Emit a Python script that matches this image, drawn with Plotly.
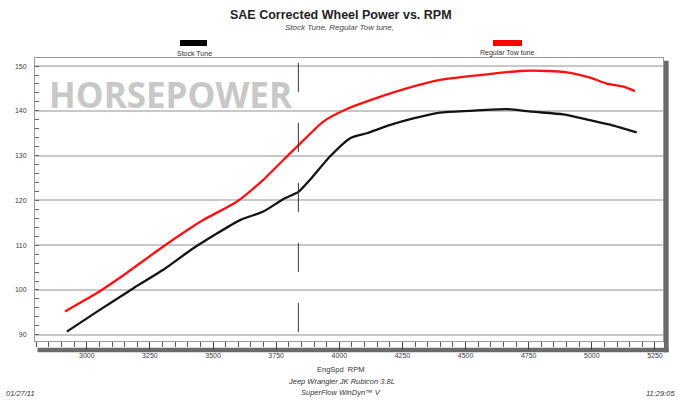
import plotly.graph_objects as go

# ---- data ----
stock_rpm = [2921, 3053, 3185, 3303, 3422, 3607, 3699, 3779, 3838, 3884, 3963, 4043, 4109,
             4199, 4293, 4399, 4518, 4663, 4763, 4887, 4993, 5085, 5178]
stock_hp = [90.7, 95.6, 100.4, 104.5, 109.3, 115.6, 117.5, 120.3, 121.9, 124.6, 129.8, 133.9, 135.0,
            136.8, 138.3, 139.6, 140.0, 140.4, 139.8, 139.2, 137.9, 136.7, 135.2]

tow_rpm = [2914, 3040, 3158, 3303, 3461, 3594, 3699, 3805, 3838, 3937, 4030, 4135, 4267,
           4399, 4557, 4716, 4822, 4901, 4993, 5059, 5125, 5171]
tow_hp = [95.2, 99.3, 103.8, 109.7, 115.6, 119.7, 124.6, 130.5, 132.3, 137.6, 140.4, 142.6, 145.0,
          146.9, 148.0, 148.9, 148.9, 148.6, 147.4, 146.1, 145.4, 144.4]

divider_rpm = 3838
x_tick_vals = [3000, 3250, 3500, 3750, 4000, 4250, 4500, 4750, 5000, 5250]
y_tick_vals = [90, 100, 110, 120, 130, 140, 150]

SMALL = "Liberation Sans, Arial, sans-serif"

fig = go.Figure()
fig.add_trace(go.Scatter(x=stock_rpm, y=stock_hp, mode="lines", name="Stock Tune",
                         line=dict(color="#141414", width=2.3, shape="spline", smoothing=0.6)))
fig.add_trace(go.Scatter(x=tow_rpm, y=tow_hp, mode="lines", name="Regular Tow tune",
                         line=dict(color="#ff1010", width=2.3, shape="spline", smoothing=0.6)))

fig.add_shape(type="line", xref="x", yref="y", x0=divider_rpm, x1=divider_rpm, y0=150.7, y1=90.4,
              line=dict(color="#333333", width=1, dash="29px,31px"), layer="above")

# 3D shadow bars (bottom and right)
fig.add_shape(type="rect", xref="paper", yref="paper", x0=0.004, x1=1.009, y0=-0.040, y1=-0.024,
              line=dict(width=0), fillcolor="#6a6a6a", layer="below")
fig.add_shape(type="rect", xref="paper", yref="paper", x0=1.0015, x1=1.009, y0=-0.040, y1=0.99,
              line=dict(width=0), fillcolor="#6a6a6a", layer="below")

# legend swatches
fig.add_shape(type="rect", xref="paper", yref="paper", x0=(180 - 35) / 628, x1=(207 - 35) / 628,
              y0=(341 - 46) / 283, y1=(341 - 40) / 283, fillcolor="#000000", line=dict(width=0))
fig.add_shape(type="rect", xref="paper", yref="paper", x0=(493 - 35) / 628, x1=(522 - 35) / 628,
              y0=(341 - 46) / 283, y1=(341 - 40) / 283, fillcolor="#ff0000", line=dict(width=0))

def px_ann(text, x, y, size, color="#333333", italic=False, bold=False, family=SMALL, xanchor="center"):
    if italic:
        text = "<i>" + text + "</i>"
    if bold:
        text = "<b>" + text + "</b>"
    fig.add_annotation(text=text, xref="paper", yref="paper", x=(x - 35) / 628, y=(341 - y) / 283,
                       showarrow=False, xanchor=xanchor, yanchor="middle",
                       font=dict(family=family, size=size, color=color))

px_ann("SAE Corrected Wheel Power vs. RPM", 341, 15, 12.5, color="#222222", bold=True)
px_ann("Stock Tune, Regular Tow tune,", 339, 28, 8, color="#444444", italic=True)
px_ann("Stock Tune", 194, 53, 7)
px_ann("Regular Tow tune", 507, 53, 7)
px_ann("HORSEPOWER", 47, 94, 35, color="#c8c8c8", bold=True, family="Open Sans, sans-serif", xanchor="left")
px_ann("EngSpd  RPM", 341, 369, 7.5)
px_ann("Jeep Wrangler JK Rubicon 3.8L", 341, 381, 7.5, italic=True)
px_ann("SuperFlow WinDyn\u2122 V", 341, 392, 7.5, italic=True)
px_ann("01/27/11", 4, 393, 7.5, italic=True, xanchor="left")
px_ann("11:29:05", 677, 393, 7.5, italic=True, xanchor="right")

fig.update_layout(
    template="none",
    width=678, height=403,
    margin=dict(l=35, r=15, t=58, b=62),
    paper_bgcolor="white", plot_bgcolor="white",
    showlegend=False,
    font=dict(family=SMALL, size=7, color="#333333"),
)
fig.update_xaxes(
    range=[2795, 5282], tickvals=x_tick_vals, ticks="outside", ticklen=8, tickwidth=1.2,
    tickcolor="#444444", showgrid=False, zeroline=False, showline=True, linecolor="#9a9a9a",
    linewidth=1, mirror=True, tickfont=dict(family=SMALL, size=7, color="#3a3a3a"),
    minor=dict(dtick=50, tick0=3000, ticks="outside", ticklen=5, tickcolor="#555555", showgrid=False),
)
fig.update_yaxes(
    range=[88.6, 151.8], tickvals=y_tick_vals, ticks="inside", ticklen=0, ticklabelstandoff=6,
    showgrid=True, gridcolor="#c8c8c8", gridwidth=1.6, zeroline=False, showline=True,
    linecolor="#9a9a9a", linewidth=1, mirror=True, tickfont=dict(family=SMALL, size=7, color="#3a3a3a"),
    minor=dict(dtick=2, tick0=90, ticks="inside", ticklen=4, tickcolor="#666666", showgrid=False),
)

fig.write_html("out.html", config={"displayModeBar": False},
               post_script="document.body.style.margin='0';document.body.style.overflow='hidden';")
